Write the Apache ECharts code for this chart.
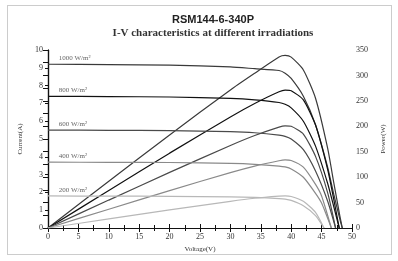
<!DOCTYPE html>
<html>
<head>
<meta charset="utf-8">
<script src="https://cdn.jsdelivr.net/npm/echarts@6/dist/echarts.min.js"></script>
<style>
  html, body { margin: 0; padding: 0; background: #fff; }
  #main { width: 398px; height: 261px; }
</style>
</head>
<body>
<div id="main"></div>
<script>
// irradiance levels, label text
var irradiance = ['1000 W/m²', '800 W/m²', '600 W/m²', '400 W/m²', '200 W/m²'];

// I-V curves (voltage V, current A)
var volt1000 = [0, 10, 20, 30, 34, 38, 39, 40, 42, 44, 46, 47, 48, 48.4];
var amp1000 = [9.2, 9.18, 9.15, 9.05, 8.95, 8.85, 8.7, 8.4, 7.4, 5.8, 3.4, 1.9, 0.5, 0];
var volt800 = [0, 10, 20, 30, 34, 38, 39, 40, 42, 44, 46, 47, 47.9];
var amp800 = [7.4, 7.38, 7.36, 7.28, 7.2, 7.05, 6.95, 6.75, 6.0, 4.6, 2.5, 1.2, 0];
var volt600 = [0, 10, 20, 30, 34, 38, 39, 40, 42, 44, 46, 47.3];
var amp600 = [5.5, 5.49, 5.47, 5.41, 5.35, 5.22, 5.15, 5.0, 4.4, 3.2, 1.5, 0];
var volt400 = [0, 10, 20, 30, 34, 38, 39, 40, 42, 44, 45, 46.6];
var amp400 = [3.7, 3.69, 3.68, 3.63, 3.58, 3.48, 3.43, 3.32, 2.85, 1.95, 1.4, 0];
var volt200 = [0, 10, 20, 30, 34, 38, 39, 40, 42, 44, 45.4];
var amp200 = [1.8, 1.79, 1.78, 1.75, 1.72, 1.65, 1.62, 1.55, 1.25, 0.7, 0];

// P-V curves (power W, same voltages)
var watt1000 = [0, 91.8, 183, 271.5, 304.3, 336.3, 339.3, 336, 310.8, 255.2, 156.4, 89.3, 24, 0];
var watt800 = [0, 73.8, 147.2, 218.4, 244.8, 267.9, 271.1, 270, 252, 202.4, 115, 56.4, 0];
var watt600 = [0, 54.9, 109.4, 162.3, 181.9, 198.4, 200.9, 200, 184.8, 140.8, 69, 0];
var watt400 = [0, 36.9, 73.6, 108.9, 121.7, 132.2, 133.8, 132.8, 119.7, 85.8, 63, 0];
var watt200 = [0, 17.9, 35.6, 52.5, 58.5, 62.7, 63.2, 62, 52.5, 30.8, 0];

var volts = [volt1000, volt800, volt600, volt400, volt200];
var amps = [amp1000, amp800, amp600, amp400, amp200];
var watts = [watt1000, watt800, watt600, watt400, watt200];
var colors = ['#3a3a3a', '#111111', '#4a4a4a', '#8a8a8a', '#b8b8b8'];

function pairs(xs, ys) {
  return xs.map(function (x, i) { return [x, ys[i]]; });
}

var series = [];
irradiance.forEach(function (name, k) {
  series.push({
    name: name,
    type: 'line',
    xAxisIndex: 0,
    yAxisIndex: 0,
    data: pairs(volts[k], amps[k]),
    smooth: 0.2,
    symbol: 'none',
    lineStyle: { color: colors[k], width: 1.2 },
    markPoint: {
      symbol: 'circle',
      symbolSize: 0,
      data: [{ coord: [1.6, amps[k][0]] }],
      label: {
        show: true,
        position: 'right',
        offset: [-4, -6],
        formatter: name,
        color: '#666',
        fontSize: 7,
        fontFamily: 'Liberation Serif'
      }
    }
  });
  series.push({
    name: name + ' P',
    type: 'line',
    xAxisIndex: 0,
    yAxisIndex: 1,
    data: pairs(volts[k], watts[k]),
    smooth: 0.2,
    symbol: 'none',
    lineStyle: { color: colors[k], width: 1.2 }
  });
});

var tickFont = { fontSize: 8, color: '#333', fontFamily: 'Liberation Serif' };

var chart = echarts.init(document.getElementById('main'));
chart.setOption({
  animation: false,
  backgroundColor: '#fff',
  title: {
    text: 'RSM144-6-340P',
    subtext: 'I-V characteristics at different irradiations',
    left: 208,
    textAlign: 'center',
    top: 9,
    itemGap: 3,
    textStyle: { fontSize: 11, fontWeight: 'bold', color: '#222', fontFamily: 'Liberation Sans' },
    subtextStyle: { fontSize: 11, fontWeight: 'bold', color: '#333', fontFamily: 'Liberation Serif' }
  },
  graphic: [{
    type: 'rect',
    shape: { x: 7.5, y: 5.5, width: 384, height: 249 },
    style: { fill: 'none', stroke: '#999', lineWidth: 1, lineDash: [1, 1] },
    silent: true
  }],
  grid: { left: 48, right: 46, top: 50, bottom: 33 },
  xAxis: [{
    type: 'value',
    min: 0, max: 50, interval: 5,
    name: 'Voltage(V)',
    nameLocation: 'middle',
    nameGap: 14,
    nameTextStyle: { fontSize: 7, color: '#333', fontFamily: 'Liberation Serif' },
    axisLine: { lineStyle: { color: '#111', width: 1.2 } },
    axisTick: { inside: true, length: 4, lineStyle: { color: '#111' } },
    minorTick: { show: true, splitNumber: 2, length: 3, lineStyle: { color: '#111' } },
    axisLabel: Object.assign({ margin: 5 }, tickFont),
    splitLine: { show: false }
  }, {
    type: 'value',
    position: 'top',
    min: 0, max: 50, interval: 5,
    axisLine: { show: true, lineStyle: { color: '#111', width: 1.2 } },
    axisTick: { inside: true, length: 4, lineStyle: { color: '#111' } },
    minorTick: { show: true, splitNumber: 2, length: 3, lineStyle: { color: '#111' } },
    axisLabel: { show: false },
    splitLine: { show: false }
  }],
  yAxis: [{
    type: 'value',
    min: 0, max: 10, interval: 1,
    name: 'Current(A)',
    nameLocation: 'middle',
    nameGap: 22,
    nameTextStyle: { fontSize: 7, color: '#333', fontFamily: 'Liberation Serif' },
    axisLine: { show: true, lineStyle: { color: '#111', width: 1.2 } },
    axisTick: { inside: false, length: 3, lineStyle: { color: '#111' } },
    axisLabel: Object.assign({ margin: 5 }, tickFont),
    splitLine: { show: false }
  }, {
    type: 'value',
    position: 'right',
    min: 0, max: 350, interval: 50,
    name: 'Power(W)',
    nameLocation: 'middle',
    nameGap: 28,
    nameTextStyle: { fontSize: 7, color: '#333', fontFamily: 'Liberation Serif' },
    axisLine: { show: true, lineStyle: { color: '#111', width: 1.2 } },
    axisTick: { inside: true, length: 5, lineStyle: { color: '#111' } },
    minorTick: { show: true, splitNumber: 2, length: 5, lineStyle: { color: '#111' } },
    axisLabel: Object.assign({ margin: 4 }, tickFont),
    splitLine: { show: false }
  }],
  series: series
});
</script>
</body>
</html>
